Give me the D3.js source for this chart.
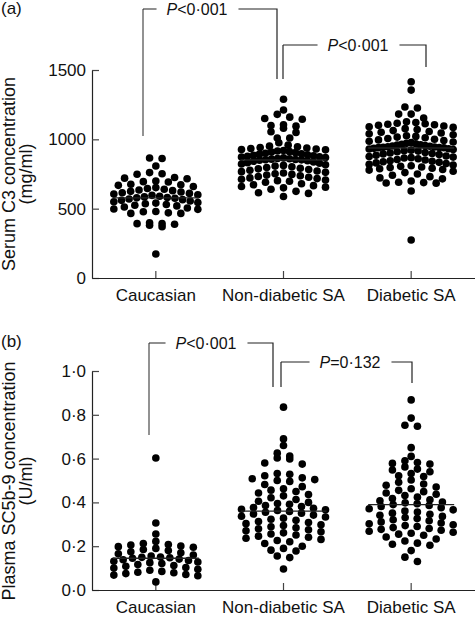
<!DOCTYPE html>
<html><head><meta charset="utf-8">
<script src="https://cdn.jsdelivr.net/npm/d3@7"></script>
<style>body{margin:0;background:#fff} svg{display:block} text{font-family:"Liberation Sans",Arial,sans-serif;fill:#111}</style>
</head><body><svg id="c" width="475" height="617"></svg>
<script>
const categories = ["Caucasian", "Non-diabetic SA", "Diabetic SA"];

// Panel (a): Serum C3 (mg/ml)
const c3Caucasian = [865, 862, 808, 760, 752, 748, 725, 720, 716, 700, 695, 692, 676, 672, 668, 660, 652, 645, 640, 635, 630, 625, 620, 615, 610, 605, 600, 596, 590, 585, 580, 578, 575, 570, 565, 560, 555, 550, 545, 540, 535, 530, 525, 520, 512, 505, 498, 495, 480, 478, 470, 466, 466, 398, 392, 392, 388, 380, 370, 173];
const c3NonDiabetic = [1289, 1212, 1180, 1160, 1150, 1145, 1105, 1100, 1095, 1080, 1055, 1050, 1010, 1010, 975, 958, 951, 946, 941, 938, 934, 930, 927, 924, 920, 916, 911, 908, 904, 900, 896, 893, 888, 885, 881, 878, 874, 872, 869, 866, 862, 860, 857, 855, 853, 852, 850, 846, 842, 837, 832, 827, 822, 817, 812, 807, 802, 797, 792, 787, 782, 777, 772, 767, 762, 757, 752, 747, 742, 737, 732, 727, 722, 717, 712, 707, 702, 698, 690, 680, 672, 666, 660, 655, 650, 640, 625, 615, 610, 588];
const c3Diabetic = [1415, 1355, 1233, 1226, 1182, 1182, 1154, 1126, 1121, 1116, 1112, 1109, 1105, 1101, 1096, 1091, 1086, 1077, 1071, 1063, 1056, 1051, 1046, 1040, 1033, 1026, 1021, 1016, 1011, 1006, 1001, 996, 991, 986, 981, 976, 971, 968, 965, 961, 958, 955, 952, 950, 947, 945, 943, 941, 940, 939, 935, 932, 930, 926, 922, 918, 915, 910, 905, 901, 898, 895, 890, 885, 880, 876, 872, 868, 865, 860, 855, 851, 846, 842, 838, 834, 830, 825, 820, 815, 810, 805, 800, 796, 792, 788, 782, 778, 770, 760, 750, 741, 731, 722, 715, 700, 690, 688, 685, 684, 627, 274];
const c3Medians = [578, 851, 938];
const c3Ticks = [0, 500, 1000, 1500];
const c3PLabels = ["<0·001", "<0·001"];

// Panel (b): Plasma SC5b-9 (U/ml)
const sc5Caucasian = [0.603, 0.306, 0.256, 0.222, 0.212, 0.208, 0.205, 0.201, 0.198, 0.195, 0.19, 0.185, 0.18, 0.175, 0.17, 0.165, 0.16, 0.155, 0.151, 0.149, 0.147, 0.145, 0.141, 0.138, 0.135, 0.131, 0.128, 0.125, 0.121, 0.116, 0.112, 0.108, 0.103, 0.1, 0.095, 0.09, 0.085, 0.081, 0.079, 0.075, 0.071, 0.068, 0.065, 0.037];
const sc5NonDiabetic = [0.835, 0.69, 0.66, 0.625, 0.612, 0.603, 0.598, 0.58, 0.575, 0.532, 0.528, 0.522, 0.512, 0.508, 0.504, 0.5, 0.496, 0.482, 0.472, 0.462, 0.456, 0.45, 0.443, 0.436, 0.43, 0.421, 0.413, 0.405, 0.4, 0.395, 0.391, 0.386, 0.381, 0.377, 0.373, 0.369, 0.366, 0.363, 0.359, 0.355, 0.351, 0.347, 0.342, 0.337, 0.333, 0.328, 0.323, 0.318, 0.313, 0.308, 0.303, 0.298, 0.294, 0.289, 0.284, 0.28, 0.275, 0.27, 0.266, 0.261, 0.256, 0.251, 0.246, 0.241, 0.236, 0.231, 0.226, 0.22, 0.212, 0.2, 0.19, 0.182, 0.178, 0.155, 0.148, 0.096];
const sc5Diabetic = [0.868, 0.785, 0.752, 0.748, 0.65, 0.61, 0.59, 0.582, 0.578, 0.575, 0.562, 0.552, 0.548, 0.54, 0.532, 0.522, 0.518, 0.502, 0.492, 0.484, 0.478, 0.47, 0.462, 0.455, 0.449, 0.443, 0.437, 0.431, 0.424, 0.418, 0.412, 0.407, 0.402, 0.398, 0.394, 0.39, 0.386, 0.381, 0.376, 0.371, 0.366, 0.361, 0.356, 0.351, 0.346, 0.341, 0.336, 0.331, 0.326, 0.321, 0.316, 0.311, 0.306, 0.302, 0.298, 0.294, 0.29, 0.285, 0.281, 0.277, 0.273, 0.268, 0.264, 0.259, 0.255, 0.25, 0.242, 0.233, 0.224, 0.214, 0.209, 0.204, 0.18, 0.15, 0.13];
const sc5Medians = [0.145, 0.36, 0.39];
const sc5Ticks = [0, 0.2, 0.4, 0.6, 0.8, 1.0];
const sc5PLabels = ["<0·001", "=0·132"];

const svg = d3.select("#c");
const FS = 17, TFS = 18, PFS = 16;

function swarm(values, y, cx) {
  const h = 7.5, maxHalf = 42, step = 12.5;
  const pts = values.map(v => ({ v, y: y(v) }));
  const bins = d3.group(pts, p => Math.floor(p.y / h));
  for (const [, arr] of bins) {
    arr.sort((a, b) => b.v - a.v);
    const n = arr.length;
    const s = n > 1 ? Math.min(step, 2 * maxHalf / (n - 1)) : 0;
    const slots = d3.range(n).map(i => (i - (n - 1) / 2) * s);
    slots.sort((a, b) => Math.abs(a) - Math.abs(b) || a - b);
    arr.forEach((p, i) => p.x = cx + slots[i]);
  }
  return pts;
}

function panel(opt) {
  const g = svg.append("g");
  const x = d3.scaleBand().domain(categories).range([92, 475]).paddingInner(0).paddingOuter(0);
  const y = d3.scaleLinear().domain(opt.domain).range(opt.range);

  const ya = g.append("g").attr("transform", "translate(92,0)")
    .call(d3.axisLeft(y).tickValues(opt.ticks).tickFormat(opt.fmt).tickSizeInner(-7).tickSizeOuter(0).tickPadding(6));
  ya.select(".domain").attr("stroke", "#222").attr("stroke-width", 1.2);
  ya.selectAll(".tick line").attr("stroke", "#444").attr("stroke-width", 1.2);
  ya.selectAll("text").attr("font-size", FS).attr("font-family", "Liberation Sans, Arial, sans-serif").attr("fill", "#111");

  const xa = g.append("g").attr("transform", `translate(0,${opt.range[0]})`)
    .call(d3.axisBottom(x).tickSizeInner(-7).tickSizeOuter(0).tickPadding(11));
  xa.select(".domain").attr("stroke", "#222").attr("stroke-width", 1.2);
  xa.selectAll(".tick line").attr("stroke", "#444").attr("stroke-width", 1.2);
  xa.selectAll("text").attr("font-size", FS).attr("font-family", "Liberation Sans, Arial, sans-serif").attr("fill", "#111");

  opt.series.forEach((vals, i) => {
    const cx = x(categories[i]) + x.bandwidth() / 2;
    const pts = swarm(vals, y, cx);
    g.append("g").selectAll("circle").data(pts).join("circle")
      .attr("cx", d => d.x).attr("cy", d => d.y).attr("r", 3.8).attr("fill", "#000");
    g.append("line").attr("x1", cx - 43).attr("x2", cx + 43)
      .attr("y1", y(opt.medians[i])).attr("y2", y(opt.medians[i]))
      .attr("stroke", "#222").attr("stroke-width", 1.4);
  });

  const tt = g.append("text").attr("transform", `translate(0,${opt.titleY}) rotate(-90)`)
    .attr("text-anchor", "middle").attr("font-size", TFS);
  tt.append("tspan").attr("x", 0).attr("y", 15).text(opt.title1);
  tt.append("tspan").attr("x", 0).attr("y", 32).text(opt.title2);

  g.append("text").attr("x", 1).attr("y", opt.labelY).attr("font-size", FS).text(opt.label);

  opt.brackets.forEach((b, i) => {
    const t = g.append("text").attr("x", b.cx).attr("y", b.ly + 6).attr("text-anchor", "middle").attr("font-size", PFS);
    t.append("tspan").attr("font-style", "italic").text("P");
    t.append("tspan").text(opt.pLabels[i]);
    const w = t.node().getComputedTextLength();
    const l = b.cx - w / 2 - 10, r = b.cx + w / 2 + 11;
    g.append("path").attr("fill", "none").attr("stroke", b.leftColor || "#222").attr("stroke-width", b.leftWidth || 1.2)
      .attr("d", `M${b.lx},${b.lb}V${b.ly}`);
    g.append("path").attr("fill", "none").attr("stroke", "#222").attr("stroke-width", 1.2)
      .attr("d", `M${b.lx},${b.ly}H${l}M${r},${b.ly}H${b.rx}V${b.rb}`);
  });
}

const dotFmt = d => d3.format(".1f")(d).replace(".", "·");

panel({
  domain: [0, 1500], range: [278, 70], ticks: c3Ticks, fmt: d3.format("d"),
  series: [c3Caucasian, c3NonDiabetic, c3Diabetic], medians: c3Medians,
  title1: "Serum C3 concentration", title2: "(mg/ml)", titleY: 174,
  label: "(a)", labelY: 14, pLabels: c3PLabels,
  brackets: [
    { lx: 143, lb: 136, ly: 9, cx: 197, rx: 277, rb: 79, leftColor: "#777", leftWidth: 1.6 },
    { lx: 283, lb: 79, ly: 45, cx: 358, rx: 426, rb: 67 }
  ]
});

panel({
  domain: [0, 1], range: [590, 371], ticks: sc5Ticks, fmt: dotFmt,
  series: [sc5Caucasian, sc5NonDiabetic, sc5Diabetic], medians: sc5Medians,
  title1: "Plasma SC5b-9 concentration", title2: "(U/ml)", titleY: 481,
  label: "(b)", labelY: 347, pLabels: sc5PLabels,
  brackets: [
    { lx: 149, lb: 435, ly: 343, cx: 206, rx: 273, rb: 387, leftColor: "#777", leftWidth: 1.6 },
    { lx: 281, lb: 387, ly: 362, cx: 350, rx: 412, rb: 383 }
  ]
});
</script></body></html>
